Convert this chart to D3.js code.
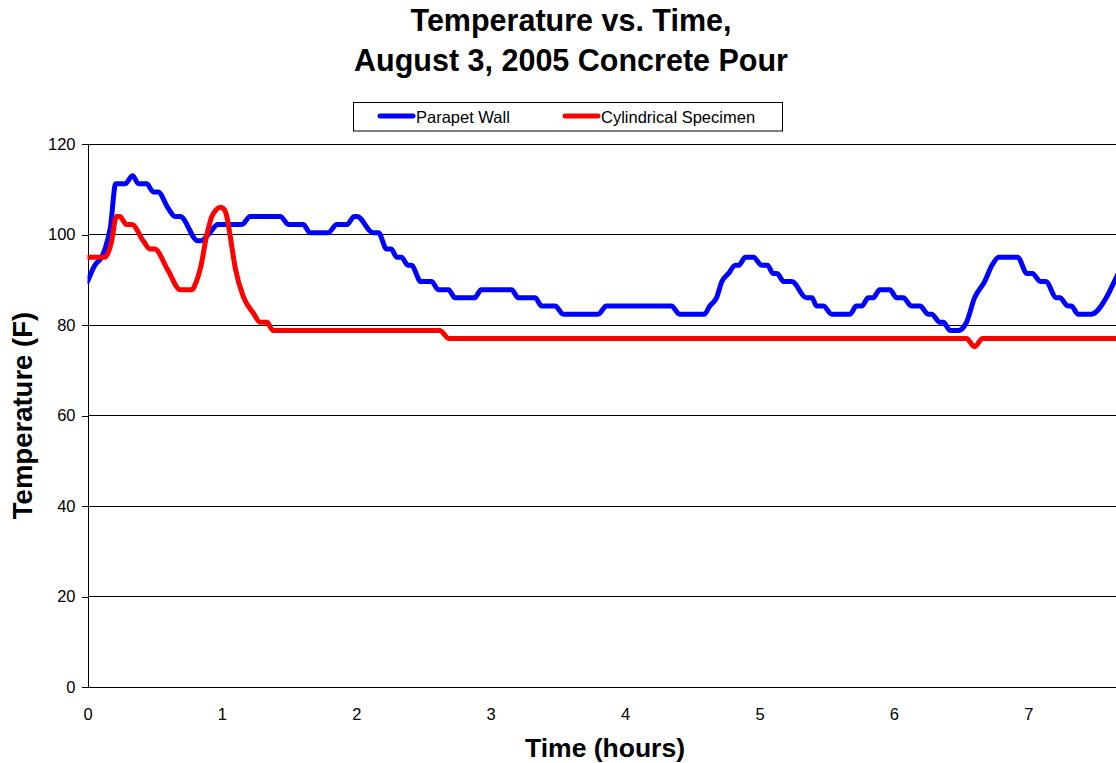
<!DOCTYPE html>
<html>
<head>
<meta charset="utf-8">
<script src="https://cdn.jsdelivr.net/npm/d3@7"></script>
<style>
  html, body { margin: 0; padding: 0; background: #fff; overflow: hidden; }
  svg { display: block; font-family: "Liberation Sans", Arial, sans-serif; }
</style>
</head>
<body>
<svg id="chart" width="1116" height="763"></svg>
<script>
// Parapet wall sensor: elapsed time (hours) and temperature (F)
const parapetHours = [0.000, 0.055, 0.105, 0.130, 0.170, 0.210, 0.280, 0.335, 0.380, 0.440,
  0.490, 0.525, 0.600, 0.650, 0.690, 0.820, 0.845, 0.910, 0.970, 1.150,
  1.210, 1.435, 1.495, 1.605, 1.655, 1.790, 1.855, 1.930, 1.985, 2.005,
  2.125, 2.165, 2.225, 2.260, 2.300, 2.335, 2.385, 2.410, 2.480, 2.560,
  2.610, 2.685, 2.735, 2.880, 2.930, 3.155, 3.205, 3.330, 3.380, 3.480,
  3.540, 3.800, 3.860, 4.345, 4.405, 4.590, 4.630, 4.680, 4.720, 4.770,
  4.820, 4.845, 4.895, 4.955, 5.015, 5.060, 5.100, 5.130, 5.180, 5.240,
  5.350, 5.390, 5.425, 5.475, 5.537, 5.674, 5.720, 5.760, 5.810, 5.846,
  5.895, 5.970, 6.020, 6.070, 6.130, 6.195, 6.255, 6.280, 6.343, 6.368,
  6.418, 6.480, 6.540, 6.600, 6.675, 6.730, 6.780, 6.920, 6.990, 7.030,
  7.090, 7.130, 7.210, 7.235, 7.295, 7.320, 7.370, 7.470, 7.580, 7.640, 7.700];
const parapetTemps = [89.6, 93.2, 95.0, 96.8, 101.5, 111.2, 111.2, 113.0, 111.2, 111.2,
  109.4, 109.4, 105.8, 104.0, 104.0, 98.6, 98.6, 100.4, 102.2, 102.2,
  104.0, 104.0, 102.2, 102.2, 100.4, 100.4, 102.2, 102.2, 104.0, 104.0,
  100.4, 100.4, 96.8, 96.8, 95.0, 95.0, 93.2, 93.2, 89.6, 89.6,
  87.8, 87.8, 86.0, 86.0, 87.8, 87.8, 86.0, 86.0, 84.2, 84.2,
  82.4, 82.4, 84.2, 84.2, 82.4, 82.4, 84.2, 86.0, 89.6, 91.4,
  93.2, 93.2, 95.0, 95.0, 93.2, 93.2, 91.4, 91.4, 89.6, 89.6,
  86.0, 86.0, 84.2, 84.2, 82.4, 82.4, 84.2, 84.2, 86.0, 86.0,
  87.8, 87.8, 86.0, 86.0, 84.2, 84.2, 82.4, 82.4, 80.6, 80.6,
  78.8, 78.8, 80.6, 86.0, 89.6, 93.2, 95.0, 95.0, 91.4, 91.4,
  89.6, 89.6, 86.0, 86.0, 84.2, 84.2, 82.4, 82.4, 86.0, 89.6, 93.2];

// Cylindrical specimen sensor
const specimenHours = [0.000, 0.130, 0.180, 0.215, 0.240, 0.290, 0.330, 0.415, 0.465, 0.500,
  0.595, 0.690, 0.775, 0.810, 0.840, 0.887, 0.924, 0.955, 0.990, 1.020,
  1.040, 1.060, 1.100, 1.160, 1.235, 1.285, 1.335, 1.380, 2.620, 2.690,
  6.540, 6.600, 6.660, 7.700];
const specimenTemps = [95.0, 95.0, 98.6, 104.0, 104.0, 102.2, 102.2, 98.6, 96.8, 96.8,
  92.3, 87.8, 87.8, 89.6, 92.5, 99.8, 103.9, 105.4, 106.0, 105.4,
  103.5, 100.0, 92.5, 86.2, 82.6, 80.6, 80.6, 78.8, 78.8, 77.0,
  77.0, 75.2, 77.0, 77.0];

const seriesNames = ["Parapet Wall", "Cylindrical Specimen"];
const seriesColors = ["#0000ff", "#ff0000"];
const yTickValues = [0, 20, 40, 60, 80, 100, 120];
const xTickValues = [0, 1, 2, 3, 4, 5, 6, 7];
const titleLines = ["Temperature vs. Time,", "August 3, 2005 Concrete Pour"];
const xTitle = "Time (hours)";
const yTitle = "Temperature (F)";

const svg = d3.select("#chart");

const plot = { left: 87.5, top: 144, bottom: 687 };
const x = d3.scaleLinear().domain([0, 7.7]).range([plot.left, plot.left + 7.7 * 134.4]);
const y = d3.scaleLinear().domain([0, 120]).range([plot.bottom, plot.top]);

// Title
svg.append("g").selectAll("text").data(titleLines).join("text")
  .attr("x", 571).attr("y", (d, i) => 31 + i * 40)
  .attr("text-anchor", "middle")
  .attr("font-size", 30.5).attr("font-weight", "bold")
  .text(d => d);

// Horizontal gridlines
svg.append("g").selectAll("line").data(yTickValues.filter(v => v > 0)).join("line")
  .attr("x1", x(0)).attr("x2", x(7.7))
  .attr("y1", d => y(d)).attr("y2", d => y(d))
  .attr("stroke", "#000").attr("stroke-width", 1)
  .attr("shape-rendering", "crispEdges");

// Y axis
const yAxis = d3.axisLeft(y).tickValues(yTickValues).tickSize(6).tickPadding(6);
const gy = svg.append("g").attr("transform", `translate(${x(0)},0)`).call(yAxis);
gy.select(".domain").attr("stroke", "#000").attr("shape-rendering", "crispEdges");
gy.selectAll(".tick line").attr("stroke", "#000").attr("shape-rendering", "crispEdges");
gy.selectAll(".tick text").attr("font-size", 16.5).attr("font-family", "Liberation Sans, Arial, sans-serif").attr("fill", "#000");

// X axis (no tick marks)
const xAxis = d3.axisBottom(x).tickValues(xTickValues).tickSize(0).tickPadding(21).tickFormat(d3.format("d"));
const gx = svg.append("g").attr("transform", `translate(0,${plot.bottom})`).call(xAxis);
gx.select(".domain").attr("stroke", "#000").attr("shape-rendering", "crispEdges");
gx.selectAll(".tick text").attr("font-size", 16.5).attr("font-family", "Liberation Sans, Arial, sans-serif").attr("fill", "#000");

// Axis titles
svg.append("text")
  .attr("x", 605).attr("y", 757)
  .attr("text-anchor", "middle")
  .attr("font-size", 26.5).attr("font-weight", "bold")
  .text(xTitle);

svg.append("text")
  .attr("transform", `translate(22,${(plot.top + plot.bottom) / 2}) rotate(-90)`)
  .attr("text-anchor", "middle").attr("dy", "0.35em")
  .attr("font-size", 27.5).attr("font-weight", "bold")
  .text(yTitle);

// Data lines
svg.append("clipPath").attr("id", "plot-clip")
  .append("rect").attr("x", x(0)).attr("y", plot.top - 10)
  .attr("width", x(7.7) - x(0)).attr("height", plot.bottom - plot.top + 10);

const line = d3.line().x(d => x(d[0])).y(d => y(d[1])).curve(d3.curveMonotoneX);
const series = [
  d3.zip(parapetHours, parapetTemps),
  d3.zip(specimenHours, specimenTemps)
];

svg.append("g").attr("clip-path", "url(#plot-clip)")
  .selectAll("path").data(series).join("path")
  .attr("d", line)
  .attr("fill", "none")
  .attr("stroke", (d, i) => seriesColors[i])
  .attr("stroke-width", 5)
  .attr("stroke-linejoin", "round")
  .attr("stroke-linecap", "round");

// Legend
const legend = svg.append("g");
legend.append("rect")
  .attr("x", 353.5).attr("y", 102.5).attr("width", 429).attr("height", 28.5)
  .attr("fill", "#fff").attr("stroke", "#000").attr("stroke-width", 1);
const legendX = [380, 565];
const items = legend.selectAll("g.item").data(seriesNames).join("g").attr("class", "item")
  .attr("transform", (d, i) => `translate(${legendX[i]},0)`);
items.append("line")
  .attr("x1", 0).attr("x2", 33).attr("y1", 116).attr("y2", 116)
  .attr("stroke", (d, i) => seriesColors[i]).attr("stroke-width", 5)
  .attr("stroke-linecap", "round");
items.append("text")
  .attr("x", 36).attr("y", 122.5)
  .attr("font-size", 16.5)
  .text(d => d);
</script>
</body>
</html>
